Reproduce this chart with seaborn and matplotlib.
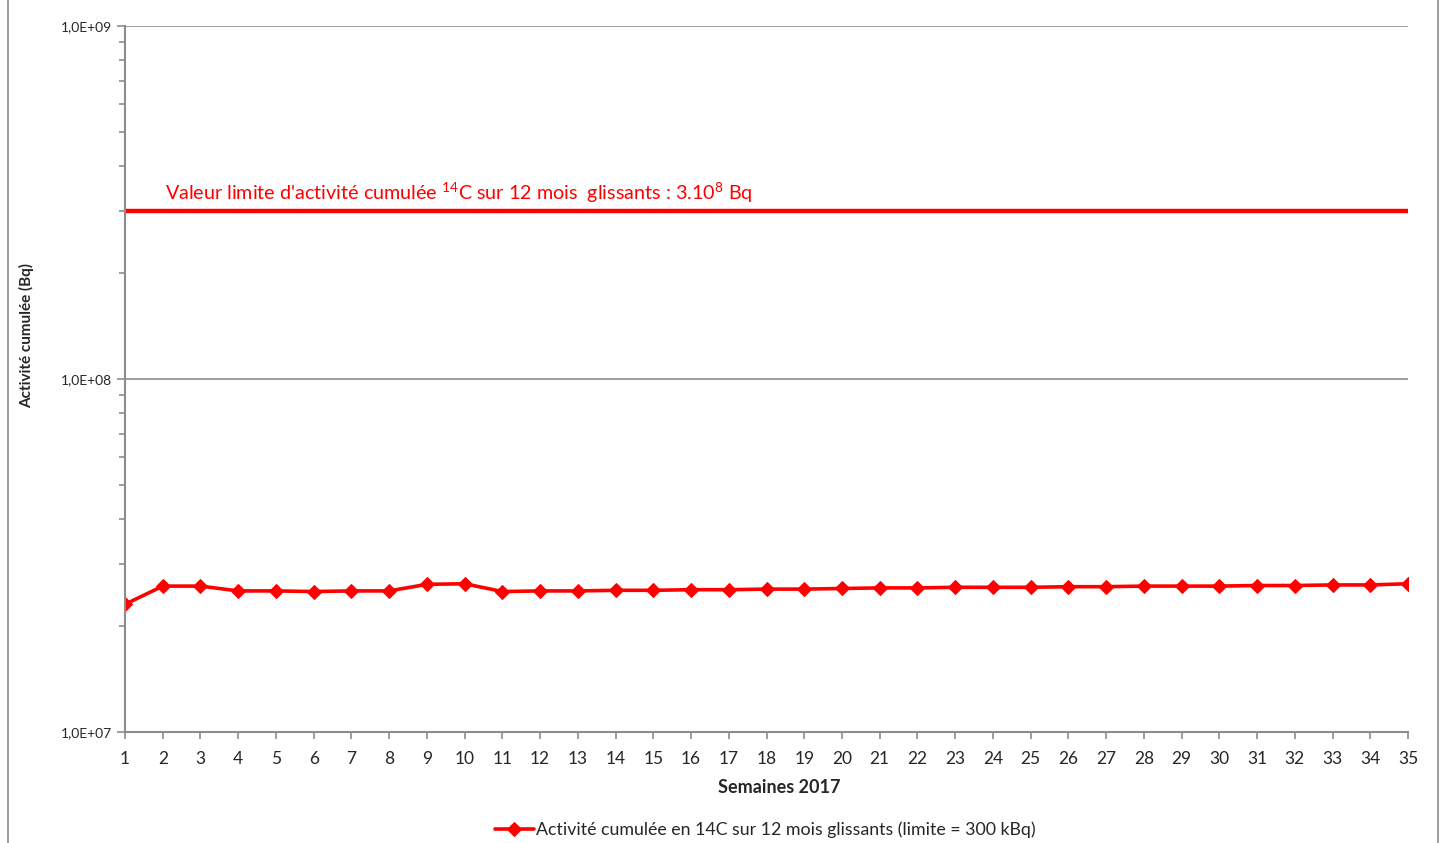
import numpy as np
import pandas as pd
import matplotlib.pyplot as plt
import matplotlib.ticker as mticker
from matplotlib.patches import Rectangle
import seaborn as sns

# weekly values (Bq)
semaines = list(range(1, 36))
activite = [2.30e7, 2.59e7, 2.59e7, 2.51e7, 2.51e7, 2.50e7, 2.51e7, 2.51e7, 2.62e7, 2.63e7,
            2.50e7, 2.51e7, 2.51e7, 2.52e7, 2.52e7, 2.53e7, 2.53e7, 2.54e7, 2.54e7, 2.55e7,
            2.56e7, 2.56e7, 2.57e7, 2.57e7, 2.57e7, 2.58e7, 2.58e7, 2.59e7, 2.59e7, 2.59e7,
            2.60e7, 2.60e7, 2.61e7, 2.61e7, 2.63e7]
limite = 3e8
yticks = [1e7, 1e8, 1e9]
ytick_labels = ["1,0E+07", "1,0E+08", "1,0E+09"]

serie_label = "Activité cumulée en 14C sur 12 mois glissants (limite = 300 kBq)"
limite_label = r"Valeur limite d'activité cumulée $\mathregular{^{14}}$C sur 12 mois  glissants : 3.10$\mathregular{^{8}}$ Bq"

df = pd.DataFrame({"semaine": semaines, "activite": activite})

sns.set_style("white")
plt.rcParams['font.family'] = ['Lato', 'DejaVu Sans']
plt.rcParams['mathtext.fontset'] = 'custom'
plt.rcParams['mathtext.rm'] = 'Lato'

fig = plt.figure(figsize=(14.46, 8.43), dpi=100)
ax = fig.add_axes([125 / 1446, 1 - 732 / 843, (1408 - 125) / 1446, (732 - 26) / 843])

# frame of the chart area (top and bottom cut off in the original)
fig.patches.append(Rectangle((8 / 1446, -0.1), (1438 - 8) / 1446, 1.2, transform=fig.transFigure,
                             fill=False, edgecolor="#8c8c8c", linewidth=1.2))

sns.lineplot(data=df, x="semaine", y="activite", ax=ax, color="#ff0000", linewidth=2.6,
             marker="D", markersize=7, markeredgecolor="#ff0000", label=serie_label, legend=False)
ax.axhline(limite, color="#ff0000", linewidth=3.2)
ax.text(2.05, 3.36e8, limite_label, color="#ff0000", fontsize=14.2, va="center")

ax.set_yscale("log")
ax.set_ylim(1e7, 1e9)
ax.set_xlim(1, 35)
ax.set_xticks(semaines)
ax.set_xticklabels([str(s) for s in semaines], fontsize=12.5)
ax.yaxis.set_major_locator(mticker.FixedLocator(yticks))
ax.set_yticklabels(ytick_labels, fontsize=10)
ax.yaxis.set_minor_locator(mticker.LogLocator(base=10, subs=np.arange(2, 10)))
ax.yaxis.set_minor_formatter(mticker.NullFormatter())
ax.tick_params(axis="y", which="both", direction="out", left=True, color="#8c8c8c", width=1.2)
ax.tick_params(axis="y", which="major", length=6)
ax.tick_params(axis="y", which="minor", length=4)
ax.tick_params(axis="x", direction="out", bottom=True, color="#8c8c8c", width=1.2, length=5, pad=9)
ax.grid(axis="y", which="major", color="#8c8c8c", linewidth=1.2)
ax.set_axisbelow(True)
for side in ["top", "right"]:
    ax.spines[side].set_visible(False)
for side in ["left", "bottom"]:
    ax.spines[side].set_color("#8c8c8c")
    ax.spines[side].set_linewidth(1.5)

ax.set_xlabel("Semaines 2017", fontsize=13, fontweight="bold")
ax.xaxis.set_label_coords((779 - 125) / 1283, (732 - 779) / 706)
ax.set_ylabel("Activité cumulée (Bq)", fontsize=11, fontweight="bold")
ax.yaxis.set_label_coords((34 - 125) / 1283, (732 - 336) / 706)

handles, labels = ax.get_legend_handles_labels()
fig.legend(handles, labels, loc="center", bbox_to_anchor=(765 / 1446, 1 - 830 / 843), frameon=False,
           fontsize=12.8, handlelength=2.2, handletextpad=0.1)

fig.savefig("out.png", dpi=100)
